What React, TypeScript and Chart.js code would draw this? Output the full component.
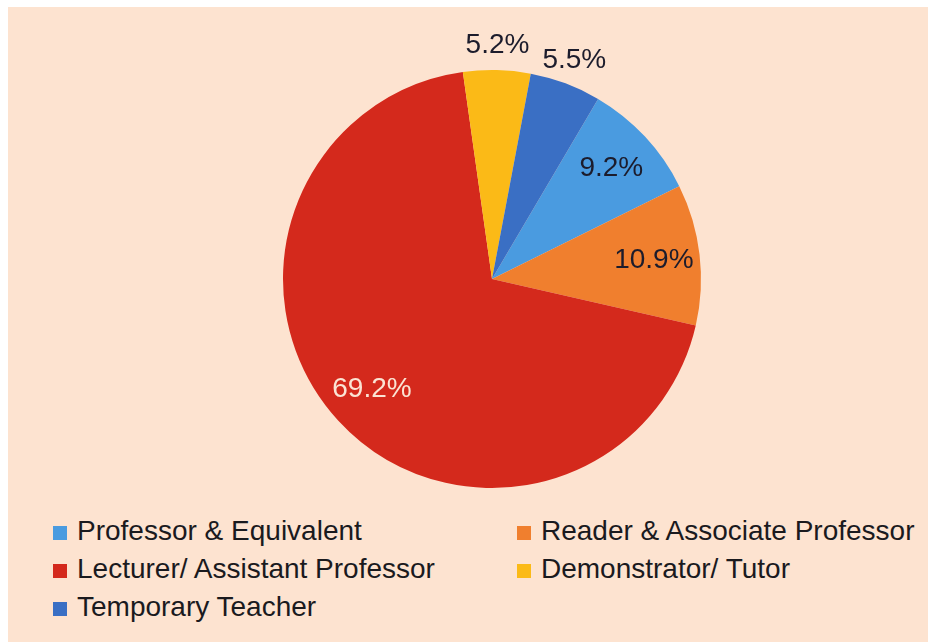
import React, { useEffect, useRef } from "react";
import { Chart, registerables } from "chart.js";

Chart.register(...registerables);

const categories = [
  "Professor & Equivalent",
  "Reader & Associate Professor",
  "Lecturer/ Assistant Professor",
  "Demonstrator/ Tutor",
  "Temporary Teacher",
];
const shares = [9.2, 10.9, 69.2, 5.2, 5.5];
const valueLabels = ["9.2%", "10.9%", "69.2%", "5.2%", "5.5%"];
const colors = ["#4a9be0", "#f07f2e", "#d4291c", "#fbba17", "#3a6fc4"];
const labelColors = ["#1c1c2c", "#1c1c2c", "#fbe4d4", "#1c1c2c", "#1c1c2c"];

const BG = "#fde3d0";
const FONT = "'Liberation Sans', Arial, sans-serif";

const labelPlugin = {
  id: "sliceLabels",
  afterDatasetsDraw(chart: any) {
    const ctx = chart.ctx;
    const meta = chart.getDatasetMeta(0);
    ctx.save();
    ctx.font = `28px ${FONT}`;
    ctx.textAlign = "center";
    ctx.textBaseline = "middle";
    meta.data.forEach((arc: any, i: number) => {
      const { x, y, startAngle, endAngle, outerRadius } = arc.getProps(
        ["x", "y", "startAngle", "endAngle", "outerRadius"],
        true
      );
      const mid = (startAngle + endAngle) / 2;
      const f = shares[i] < 6 ? 1.12 : 0.78;
      const px = x + Math.cos(mid) * outerRadius * f;
      const py = y + Math.sin(mid) * outerRadius * f;
      ctx.fillStyle = labelColors[i];
      ctx.fillText(valueLabels[i], px, py);
    });
    ctx.restore();
  },
};

export default function App() {
  const ref = useRef<HTMLCanvasElement | null>(null);

  useEffect(() => {
    if (!ref.current) return;
    const chart = new Chart(ref.current, {
      type: "pie",
      data: {
        labels: categories,
        datasets: [
          {
            data: shares,
            backgroundColor: colors,
            borderWidth: 0,
          },
        ],
      },
      options: {
        animation: false,
        responsive: false,
        rotation: 30.5,
        layout: { padding: { left: 275, right: 227, top: 63, bottom: 19 } },
        plugins: {
          legend: { display: false },
          tooltip: { enabled: false },
        },
      },
      plugins: [labelPlugin],
    });
    return () => chart.destroy();
  }, []);

  const rowH = 38;
  return (
    <div
      style={{
        position: "fixed",
        left: 8,
        top: 7,
        width: 920,
        height: 635,
        background: BG,
        overflow: "hidden",
        fontFamily: FONT,
      }}
    >
      <canvas
        ref={ref}
        width={920}
        height={500}
        style={{ position: "absolute", left: 0, top: 0, width: 920, height: 500 }}
      />
      {categories.map((c, i) => {
        const col = i % 2;
        const row = Math.floor(i / 2);
        const left = col === 0 ? 45 : 509;
        const top = 505 + row * rowH;
        return (
          <div
            key={c}
            style={{
              position: "absolute",
              left,
              top,
              height: rowH,
              display: "flex",
              alignItems: "center",
              whiteSpace: "nowrap",
              fontSize: 28,
              color: "#1a1a1e",
            }}
          >
            <span
              style={{
                display: "inline-block",
                width: 14,
                height: 14,
                background: colors[i],
                marginRight: 10,
                marginTop: 4,
              }}
            />
            <span>{c}</span>
          </div>
        );
      })}
    </div>
  );
}
